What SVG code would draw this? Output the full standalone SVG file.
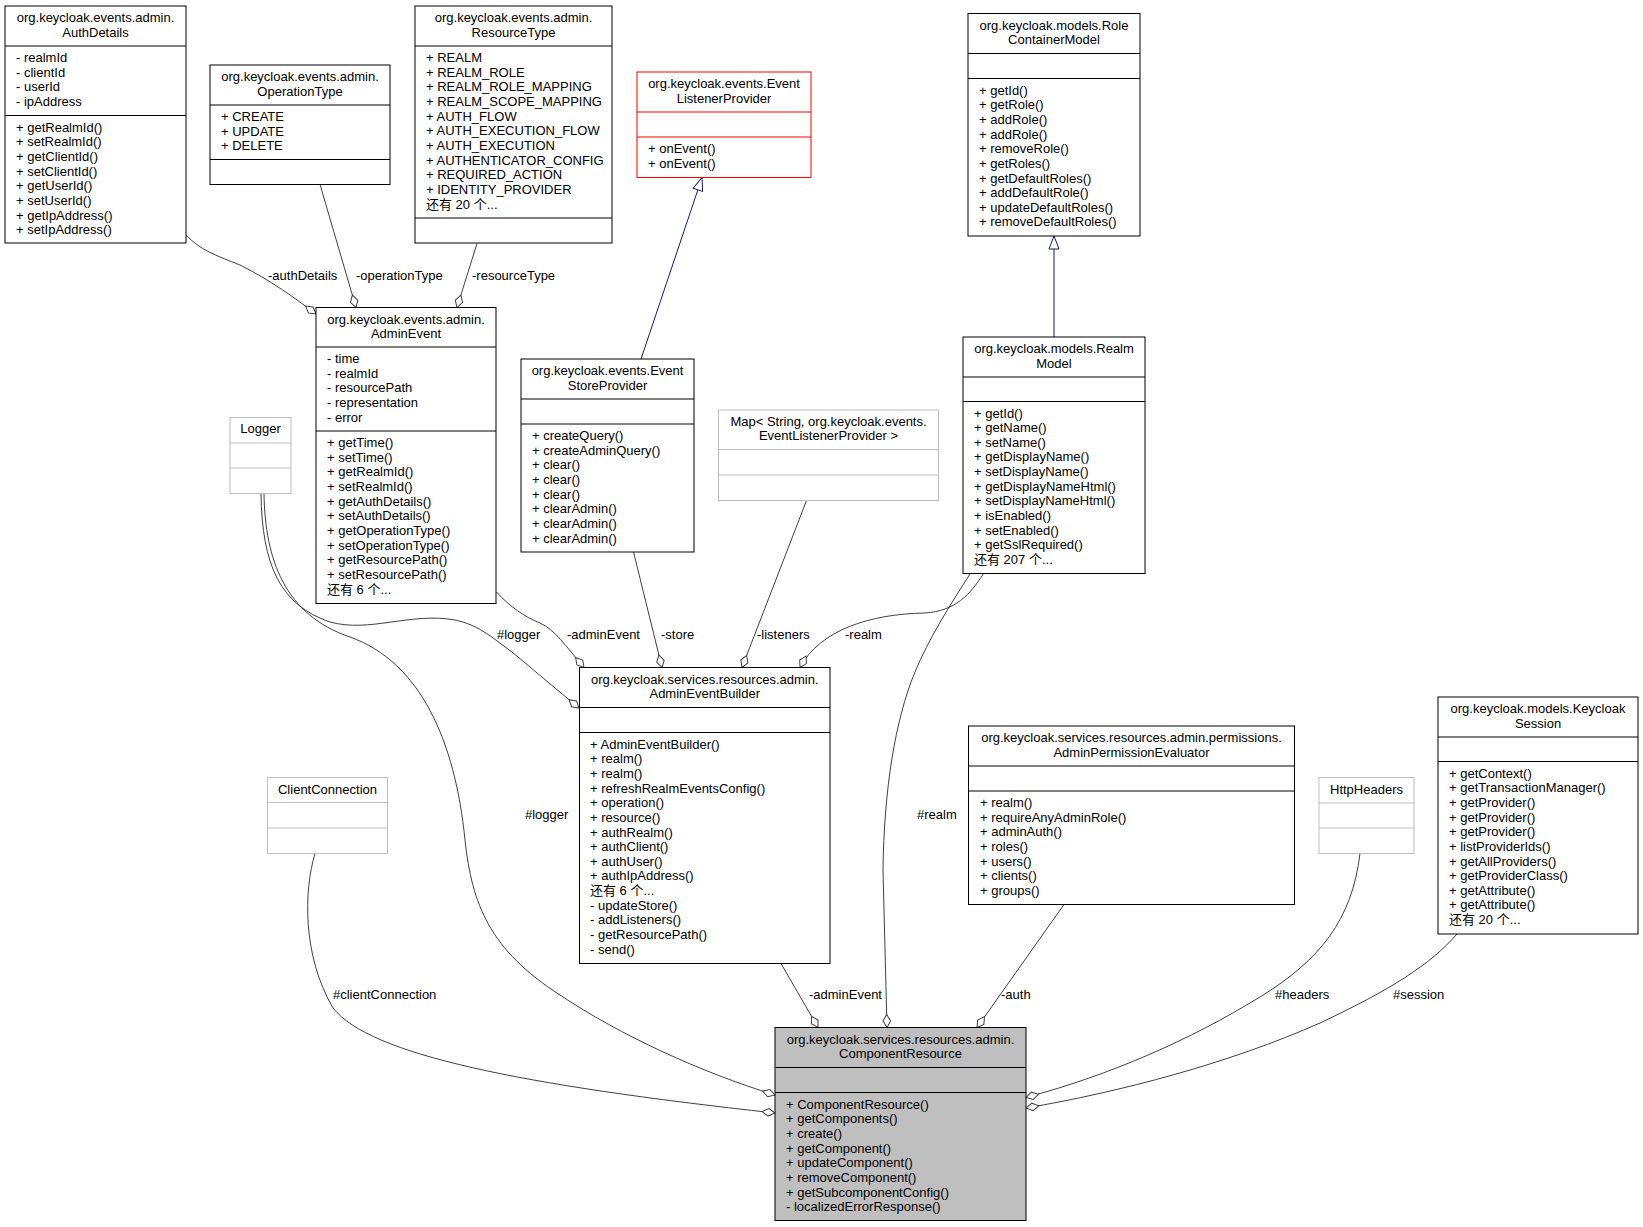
<svg xmlns="http://www.w3.org/2000/svg" width="1643" height="1227" viewBox="0 0 1643 1227">
<style>
.bx{fill:#fff;stroke:#000;stroke-width:1}
.gr{fill:#fff;stroke:#bfbfbf;stroke-width:1}
.rd{fill:#fff;stroke:#ff0000;stroke-width:1}
.sl{fill:#bfbfbf;stroke:#000;stroke-width:1}
.sp{stroke:#000;stroke-width:1}
.spg{stroke:#bfbfbf;stroke-width:1}
.spr{stroke:#ff0000;stroke-width:1}
text{font-family:"Liberation Sans","Noto Sans CJK SC",sans-serif;font-size:13px;fill:#000}
.c{text-anchor:middle}
.e{fill:none;stroke:#404040;stroke-width:1;marker-end:url(#dia)}
.i{fill:none;stroke:#191970;stroke-width:1;marker-end:url(#tri)}
</style>
<defs>
<marker id="dia" markerUnits="userSpaceOnUse" viewBox="-14 -5 15 10" refX="0" refY="0" markerWidth="15" markerHeight="10" orient="auto">
<path d="M0,0 L-6.5,-3.8 L-13,0 L-6.5,3.8 Z" fill="#fff" stroke="#404040" stroke-width="1"/>
</marker>
<marker id="tri" markerUnits="userSpaceOnUse" viewBox="-15 -6 16 12" refX="0" refY="0" markerWidth="16" markerHeight="12" orient="auto">
<path d="M0,0 L-13,-5 L-13,5 Z" fill="#fff" stroke="#191970" stroke-width="1"/>
</marker>
</defs>
<rect width="1643" height="1227" fill="#fff"/>

<g id="connectors">
<path class="e" d="M186,235 C200,250 215,255 240,265 C270,280 295,298 316,314"/>
<path class="e" d="M320,184.5 L356,307.5"/>
<path class="e" d="M477,243.5 L457,307.5"/>
<path class="i" d="M641,359 L702,177.5"/>
<path class="i" d="M1054,337 L1054,236"/>
<path class="e" d="M261,493.5 C262,565 280,605 330,622 C370,633 410,612 455,620 C480,625 495,640 512,652 L579,708"/>
<path class="e" d="M264,493.5 C265,560 285,615 350,637 C420,662 455,740 465,840 C472,905 490,950 560,995 C620,1035 700,1072 775,1095"/>
<path class="e" d="M315,853.5 C304,890 302,955 333,1008 C370,1055 520,1085 775,1113"/>
<path class="e" d="M496.5,592 C510,607 525,617 540,623 C555,630 565,645 584,667.5"/>
<path class="e" d="M633.5,552 L662,667.5"/>
<path class="e" d="M806.5,500.5 L742,667.5"/>
<path class="e" d="M983.5,573.5 C970,595 955,611 925,613 C870,614 820,630 800,667.5"/>
<path class="e" d="M970,574 C950,605 928,640 915,672 C895,720 884,790 883,870 L887,1027.5"/>
<path class="e" d="M781,963.5 L818,1027.5"/>
<path class="e" d="M1064,904.5 L977,1027.5"/>
<path class="e" d="M1360,853.5 C1352,920 1320,960 1260,997 C1190,1040 1110,1075 1026,1097.5"/>
<path class="e" d="M1457,934 C1430,965 1390,990 1320,1023 C1230,1063 1120,1092 1026,1108"/>
<text x="268" y="279.5">-authDetails</text>
<text x="356" y="279.5">-operationType</text>
<text x="472" y="279.5">-resourceType</text>
<text x="497" y="638.5">#logger</text>
<text x="567" y="638.5">-adminEvent</text>
<text x="661" y="638.5">-store</text>
<text x="757" y="638.5">-listeners</text>
<text x="845" y="638.5">-realm</text>
<text x="525" y="818.5">#logger</text>
<text x="917" y="818.5">#realm</text>
<text x="333" y="998.5">#clientConnection</text>
<text x="809" y="998.5">-adminEvent</text>
<text x="1001" y="998.5">-auth</text>
<text x="1275" y="998.5">#headers</text>
<text x="1393" y="998.5">#session</text>
</g>

<g id="AuthDetails">
<rect class="bx" x="5" y="6" width="181" height="237"/>
<line class="sp" x1="5" y1="46" x2="186" y2="46"/>
<line class="sp" x1="5" y1="115.5" x2="186" y2="115.5"/>
<text class="c" x="95.5" y="22.2">org.keycloak.events.admin.</text>
<text class="c" x="95.5" y="36.6">AuthDetails</text>
<text x="16" y="62.2">- realmId<tspan x="16" dy="14.64">- clientId</tspan><tspan x="16" dy="14.64">- userId</tspan><tspan x="16" dy="14.64">- ipAddress</tspan></text>
<text x="16" y="131.7">+ getRealmId()<tspan x="16" dy="14.64">+ setRealmId()</tspan><tspan x="16" dy="14.64">+ getClientId()</tspan><tspan x="16" dy="14.64">+ setClientId()</tspan><tspan x="16" dy="14.64">+ getUserId()</tspan><tspan x="16" dy="14.64">+ setUserId()</tspan><tspan x="16" dy="14.64">+ getIpAddress()</tspan><tspan x="16" dy="14.64">+ setIpAddress()</tspan></text>
</g>

<g id="OperationType">
<rect class="bx" x="210" y="65" width="180" height="119.5"/>
<line class="sp" x1="210" y1="105" x2="390" y2="105"/>
<line class="sp" x1="210" y1="159.5" x2="390" y2="159.5"/>
<text class="c" x="300" y="81.2">org.keycloak.events.admin.</text>
<text class="c" x="300" y="95.6">OperationType</text>
<text x="221" y="121.2">+ CREATE<tspan x="221" dy="14.64">+ UPDATE</tspan><tspan x="221" dy="14.64">+ DELETE</tspan></text>
</g>

<g id="ResourceType">
<rect class="bx" x="415" y="6" width="197" height="237"/>
<line class="sp" x1="415" y1="46" x2="612" y2="46"/>
<line class="sp" x1="415" y1="218" x2="612" y2="218"/>
<text class="c" x="513.5" y="22.2">org.keycloak.events.admin.</text>
<text class="c" x="513.5" y="36.6">ResourceType</text>
<text x="426" y="62.2">+ REALM<tspan x="426" dy="14.64">+ REALM_ROLE</tspan><tspan x="426" dy="14.64">+ REALM_ROLE_MAPPING</tspan><tspan x="426" dy="14.64">+ REALM_SCOPE_MAPPING</tspan><tspan x="426" dy="14.64">+ AUTH_FLOW</tspan><tspan x="426" dy="14.64">+ AUTH_EXECUTION_FLOW</tspan><tspan x="426" dy="14.64">+ AUTH_EXECUTION</tspan><tspan x="426" dy="14.64">+ AUTHENTICATOR_CONFIG</tspan><tspan x="426" dy="14.64">+ REQUIRED_ACTION</tspan><tspan x="426" dy="14.64">+ IDENTITY_PROVIDER</tspan><tspan x="426" dy="14.64">还有 20 个...</tspan></text>
</g>

<g id="EventListenerProvider">
<rect class="rd" x="637" y="72" width="174" height="105.5"/>
<line class="spr" x1="637" y1="112" x2="811" y2="112"/>
<line class="spr" x1="637" y1="137" x2="811" y2="137"/>
<text class="c" x="724" y="88.2">org.keycloak.events.Event</text>
<text class="c" x="724" y="102.6">ListenerProvider</text>
<text x="648" y="153.2">+ onEvent()<tspan x="648" dy="14.64">+ onEvent()</tspan></text>
</g>

<g id="RoleContainerModel">
<rect class="bx" x="968" y="13.5" width="172" height="222.5"/>
<line class="sp" x1="968" y1="53.5" x2="1140" y2="53.5"/>
<line class="sp" x1="968" y1="78.5" x2="1140" y2="78.5"/>
<text class="c" x="1054" y="29.7">org.keycloak.models.Role</text>
<text class="c" x="1054" y="44.1">ContainerModel</text>
<text x="979" y="94.7">+ getId()<tspan x="979" dy="14.64">+ getRole()</tspan><tspan x="979" dy="14.64">+ addRole()</tspan><tspan x="979" dy="14.64">+ addRole()</tspan><tspan x="979" dy="14.64">+ removeRole()</tspan><tspan x="979" dy="14.64">+ getRoles()</tspan><tspan x="979" dy="14.64">+ getDefaultRoles()</tspan><tspan x="979" dy="14.64">+ addDefaultRole()</tspan><tspan x="979" dy="14.64">+ updateDefaultRoles()</tspan><tspan x="979" dy="14.64">+ removeDefaultRoles()</tspan></text>
</g>

<g id="AdminEvent">
<rect class="bx" x="316" y="307.5" width="180" height="296"/>
<line class="sp" x1="316" y1="347" x2="496" y2="347"/>
<line class="sp" x1="316" y1="431" x2="496" y2="431"/>
<text class="c" x="406" y="323.7">org.keycloak.events.admin.</text>
<text class="c" x="406" y="338.1">AdminEvent</text>
<text x="327" y="363.2">- time<tspan x="327" dy="14.64">- realmId</tspan><tspan x="327" dy="14.64">- resourcePath</tspan><tspan x="327" dy="14.64">- representation</tspan><tspan x="327" dy="14.64">- error</tspan></text>
<text x="327" y="447.2">+ getTime()<tspan x="327" dy="14.64">+ setTime()</tspan><tspan x="327" dy="14.64">+ getRealmId()</tspan><tspan x="327" dy="14.64">+ setRealmId()</tspan><tspan x="327" dy="14.64">+ getAuthDetails()</tspan><tspan x="327" dy="14.64">+ setAuthDetails()</tspan><tspan x="327" dy="14.64">+ getOperationType()</tspan><tspan x="327" dy="14.64">+ setOperationType()</tspan><tspan x="327" dy="14.64">+ getResourcePath()</tspan><tspan x="327" dy="14.64">+ setResourcePath()</tspan><tspan x="327" dy="14.64">还有 6 个...</tspan></text>
</g>

<g id="Logger">
<rect class="gr" x="230" y="417.5" width="61" height="76"/>
<line class="spg" x1="230" y1="443" x2="291" y2="443"/>
<line class="spg" x1="230" y1="468" x2="291" y2="468"/>
<text class="c" x="260.5" y="433">Logger</text>
</g>

<g id="EventStoreProvider">
<rect class="bx" x="521" y="359" width="173" height="193"/>
<line class="sp" x1="521" y1="399" x2="694" y2="399"/>
<line class="sp" x1="521" y1="424" x2="694" y2="424"/>
<text class="c" x="607.5" y="375.2">org.keycloak.events.Event</text>
<text class="c" x="607.5" y="389.6">StoreProvider</text>
<text x="532" y="440.2">+ createQuery()<tspan x="532" dy="14.64">+ createAdminQuery()</tspan><tspan x="532" dy="14.64">+ clear()</tspan><tspan x="532" dy="14.64">+ clear()</tspan><tspan x="532" dy="14.64">+ clear()</tspan><tspan x="532" dy="14.64">+ clearAdmin()</tspan><tspan x="532" dy="14.64">+ clearAdmin()</tspan><tspan x="532" dy="14.64">+ clearAdmin()</tspan></text>
</g>

<g id="MapListeners">
<rect class="gr" x="718.5" y="410" width="220" height="90.5"/>
<line class="spg" x1="718.5" y1="449.5" x2="938.5" y2="449.5"/>
<line class="spg" x1="718.5" y1="475" x2="938.5" y2="475"/>
<text class="c" x="828.5" y="425.8">Map&lt; String, org.keycloak.events.</text>
<text class="c" x="828.5" y="439.8">EventListenerProvider &gt;</text>
</g>

<g id="RealmModel">
<rect class="bx" x="963" y="337" width="182" height="236.5"/>
<line class="sp" x1="963" y1="377" x2="1145" y2="377"/>
<line class="sp" x1="963" y1="401.5" x2="1145" y2="401.5"/>
<text class="c" x="1054" y="353.2">org.keycloak.models.Realm</text>
<text class="c" x="1054" y="367.6">Model</text>
<text x="974" y="417.5">+ getId()<tspan x="974" dy="14.64">+ getName()</tspan><tspan x="974" dy="14.64">+ setName()</tspan><tspan x="974" dy="14.64">+ getDisplayName()</tspan><tspan x="974" dy="14.64">+ setDisplayName()</tspan><tspan x="974" dy="14.64">+ getDisplayNameHtml()</tspan><tspan x="974" dy="14.64">+ setDisplayNameHtml()</tspan><tspan x="974" dy="14.64">+ isEnabled()</tspan><tspan x="974" dy="14.64">+ setEnabled()</tspan><tspan x="974" dy="14.64">+ getSslRequired()</tspan><tspan x="974" dy="14.64">还有 207 个...</tspan></text>
</g>

<g id="AdminEventBuilder">
<rect class="bx" x="579.5" y="667.5" width="250.5" height="296"/>
<line class="sp" x1="579.5" y1="707.5" x2="830" y2="707.5"/>
<line class="sp" x1="579.5" y1="732.5" x2="830" y2="732.5"/>
<text class="c" x="704.75" y="683.7">org.keycloak.services.resources.admin.</text>
<text class="c" x="704.75" y="698.1">AdminEventBuilder</text>
<text x="590" y="748.7">+ AdminEventBuilder()<tspan x="590" dy="14.64">+ realm()</tspan><tspan x="590" dy="14.64">+ realm()</tspan><tspan x="590" dy="14.64">+ refreshRealmEventsConfig()</tspan><tspan x="590" dy="14.64">+ operation()</tspan><tspan x="590" dy="14.64">+ resource()</tspan><tspan x="590" dy="14.64">+ authRealm()</tspan><tspan x="590" dy="14.64">+ authClient()</tspan><tspan x="590" dy="14.64">+ authUser()</tspan><tspan x="590" dy="14.64">+ authIpAddress()</tspan><tspan x="590" dy="14.64">还有 6 个...</tspan><tspan x="590" dy="14.64">- updateStore()</tspan><tspan x="590" dy="14.64">- addListeners()</tspan><tspan x="590" dy="14.64">- getResourcePath()</tspan><tspan x="590" dy="14.64">- send()</tspan></text>
</g>

<g id="ClientConnection">
<rect class="gr" x="267.5" y="777.5" width="120" height="76"/>
<line class="spg" x1="267.5" y1="802.5" x2="387.5" y2="802.5"/>
<line class="spg" x1="267.5" y1="828" x2="387.5" y2="828"/>
<text class="c" x="327.5" y="793.5">ClientConnection</text>
</g>

<g id="AdminPermissionEvaluator">
<rect class="bx" x="968.5" y="726" width="326" height="178.5"/>
<line class="sp" x1="968.5" y1="766" x2="1294.5" y2="766"/>
<line class="sp" x1="968.5" y1="791" x2="1294.5" y2="791"/>
<text class="c" x="1131.5" y="742.2">org.keycloak.services.resources.admin.permissions.</text>
<text class="c" x="1131.5" y="756.6">AdminPermissionEvaluator</text>
<text x="980" y="807.2">+ realm()<tspan x="980" dy="14.64">+ requireAnyAdminRole()</tspan><tspan x="980" dy="14.64">+ adminAuth()</tspan><tspan x="980" dy="14.64">+ roles()</tspan><tspan x="980" dy="14.64">+ users()</tspan><tspan x="980" dy="14.64">+ clients()</tspan><tspan x="980" dy="14.64">+ groups()</tspan></text>
</g>

<g id="HttpHeaders">
<rect class="gr" x="1319" y="777.5" width="95" height="76"/>
<line class="spg" x1="1319" y1="803" x2="1414" y2="803"/>
<line class="spg" x1="1319" y1="828" x2="1414" y2="828"/>
<text class="c" x="1366.5" y="793.5">HttpHeaders</text>
</g>

<g id="KeycloakSession">
<rect class="bx" x="1438" y="697" width="200" height="237"/>
<line class="sp" x1="1438" y1="737" x2="1638" y2="737"/>
<line class="sp" x1="1438" y1="761.5" x2="1638" y2="761.5"/>
<text class="c" x="1538" y="713.2">org.keycloak.models.Keycloak</text>
<text class="c" x="1538" y="727.6">Session</text>
<text x="1449" y="777.7">+ getContext()<tspan x="1449" dy="14.64">+ getTransactionManager()</tspan><tspan x="1449" dy="14.64">+ getProvider()</tspan><tspan x="1449" dy="14.64">+ getProvider()</tspan><tspan x="1449" dy="14.64">+ getProvider()</tspan><tspan x="1449" dy="14.64">+ listProviderIds()</tspan><tspan x="1449" dy="14.64">+ getAllProviders()</tspan><tspan x="1449" dy="14.64">+ getProviderClass()</tspan><tspan x="1449" dy="14.64">+ getAttribute()</tspan><tspan x="1449" dy="14.64">+ getAttribute()</tspan><tspan x="1449" dy="14.64">还有 20 个...</tspan></text>
</g>

<g id="ComponentResource">
<rect class="sl" x="775" y="1027.5" width="251" height="193"/>
<line class="sp" x1="775" y1="1067.5" x2="1026" y2="1067.5"/>
<line class="sp" x1="775" y1="1092.5" x2="1026" y2="1092.5"/>
<text class="c" x="900.5" y="1043.7">org.keycloak.services.resources.admin.</text>
<text class="c" x="900.5" y="1058.1">ComponentResource</text>
<text x="786" y="1108.7">+ ComponentResource()<tspan x="786" dy="14.64">+ getComponents()</tspan><tspan x="786" dy="14.64">+ create()</tspan><tspan x="786" dy="14.64">+ getComponent()</tspan><tspan x="786" dy="14.64">+ updateComponent()</tspan><tspan x="786" dy="14.64">+ removeComponent()</tspan><tspan x="786" dy="14.64">+ getSubcomponentConfig()</tspan><tspan x="786" dy="14.64">- localizedErrorResponse()</tspan></text>
</g>
</svg>
